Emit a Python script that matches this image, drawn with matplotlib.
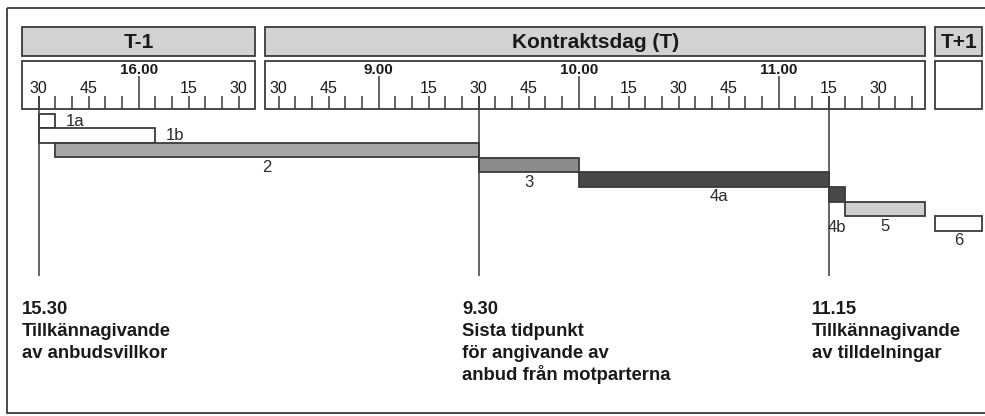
import matplotlib.pyplot as plt
from matplotlib.patches import Rectangle

plt.rcParams['font.family'] = ['Liberation Sans', 'DejaVu Sans']

# Columns of the time line: day key, title, first and last minute shown in the column
days = ["T-1", "T", "T+1"]
day_titles = ["T-1", "Kontraktsdag (T)", "T+1"]
day_spans = [("15.25", "16.35"), ("8.26", "11.44"), ("0.00", "0.14")]
# Scale with ticks every 5 minutes (None = no scale)
scale_ranges = [("15.30", "16.30"), ("8.30", "11.40"), None]

# Steps in the process
bar_labels = ["1a", "1b", "2", "3", "4a", "4b", "5", "6"]
bar_start = [("T-1", "15.30"), ("T-1", "15.30"), ("T-1", "15.35"), ("T", "9.30"),
             ("T", "10.00"), ("T", "11.15"), ("T", "11.20"), ("T+1", "0.00")]
bar_end = [("T-1", "15.35"), ("T-1", "16.05"), ("T", "9.30"), ("T", "10.00"),
           ("T", "11.15"), ("T", "11.20"), ("T", "11.44"), ("T+1", "0.14")]
bar_colors = ["white", "white", "#a6a6a6", "#8c8c8c", "#484848", "#484848", "#cecece", "white"]

# Key moments with their description
event_times = [("T-1", "15.30"), ("T", "9.30"), ("T", "11.15")]
event_texts = [
    ["15.30", "Tillkännagivande", "av anbudsvillkor"],
    ["9.30", "Sista tidpunkt", "för angivande av", "anbud från motparterna"],
    ["11.15", "Tillkännagivande", "av tilldelningar"],
]

GAP = 3            # minutes of empty space between columns
PX_PER_MIN = 10 / 3
EDGE = "#3a3a3a"
TXT = "#1a1a1a"


def to_min(s):
    h, m = s.split(".")
    return int(h) * 60 + int(m)


# offset of each day so that the columns follow each other
offsets = {}
cursor = 0
for d, (a, b) in zip(days, day_spans):
    offsets[d] = cursor - to_min(a)
    cursor += to_min(b) - to_min(a) + GAP


def pos(t):
    day, s = t
    return offsets[day] + to_min(s)


fig = plt.figure(figsize=(9.85, 4.16), dpi=100)
ax = fig.add_axes([0, 0, 1, 1])
ax.set_xlim(-22 / PX_PER_MIN, (985 - 22) / PX_PER_MIN)
ax.set_ylim(416, 0)
ax.axis("off")

# outer frame
ax.add_patch(Rectangle((-15 / PX_PER_MIN, 8), 990 / PX_PER_MIN, 405,
                       fill=False, ec=EDGE, lw=1.3))

# header boxes and scale boxes
for d, title, (a, b), rng in zip(days, day_titles, day_spans, scale_ranges):
    x0, x1 = pos((d, a)), pos((d, b))
    ax.add_patch(Rectangle((x0, 27), x1 - x0, 29, fc="#d2d2d2", ec=EDGE, lw=1.3))
    ax.text((x0 + x1) / 2, 42, title, ha="center", va="center",
            fontsize=15, fontweight="bold", color=TXT)
    ax.add_patch(Rectangle((x0, 61), x1 - x0, 48, fc="white", ec=EDGE, lw=1.3))
    if rng is None:
        continue
    for m in range(to_min(rng[0]), to_min(rng[1]) + 1, 5):
        x = offsets[d] + m
        top = 96
        if m % 60 == 0:
            top = 76
            ax.text(x, 69.5, f"{m // 60}.00", ha="center", va="center",
                    fontsize=11, fontweight="bold", color=TXT)
        elif m % 15 == 0:
            ax.text(x, 88.5, f"{m % 60}", ha="center", va="center",
                    fontsize=11.5, color=TXT)
        ax.vlines(x, top, 109, color=EDGE, lw=1.1)

# event lines and texts
for t, lines in zip(event_times, event_texts):
    x = pos(t)
    ax.vlines(x, 96, 276, color=EDGE, lw=1.1)
    for i, line in enumerate(lines):
        ax.text(x - 5, 314 + 22 * i, line, ha="left", va="baseline",
                fontsize=13.3, fontweight="bold", color=TXT)

# bars of the steps
label_shift = {"4a": 4.5}   # small sideways nudges of the labels (minutes)
for i, (lab, s, e, c) in enumerate(zip(bar_labels, bar_start, bar_end, bar_colors)):
    x0, x1 = pos(s), pos(e)
    top = 113.5 + 14.7 * i
    ax.add_patch(Rectangle((x0, top), x1 - x0, 14.5, fc=c, ec=EDGE, lw=1.3))
    if lab in ("1a", "1b"):
        ax.text(x1 + 3, top + 7.5, lab, ha="left", va="center", fontsize=12, color="#2a2a2a")
    else:
        dy = 26 if lab == "4b" else 10
        ax.text((x0 + x1) / 2 + label_shift.get(lab, 0), top + 14.5 + dy, lab,
                ha="center", va="center", fontsize=12, color="#2a2a2a")

fig.savefig("out.png", dpi=100)
